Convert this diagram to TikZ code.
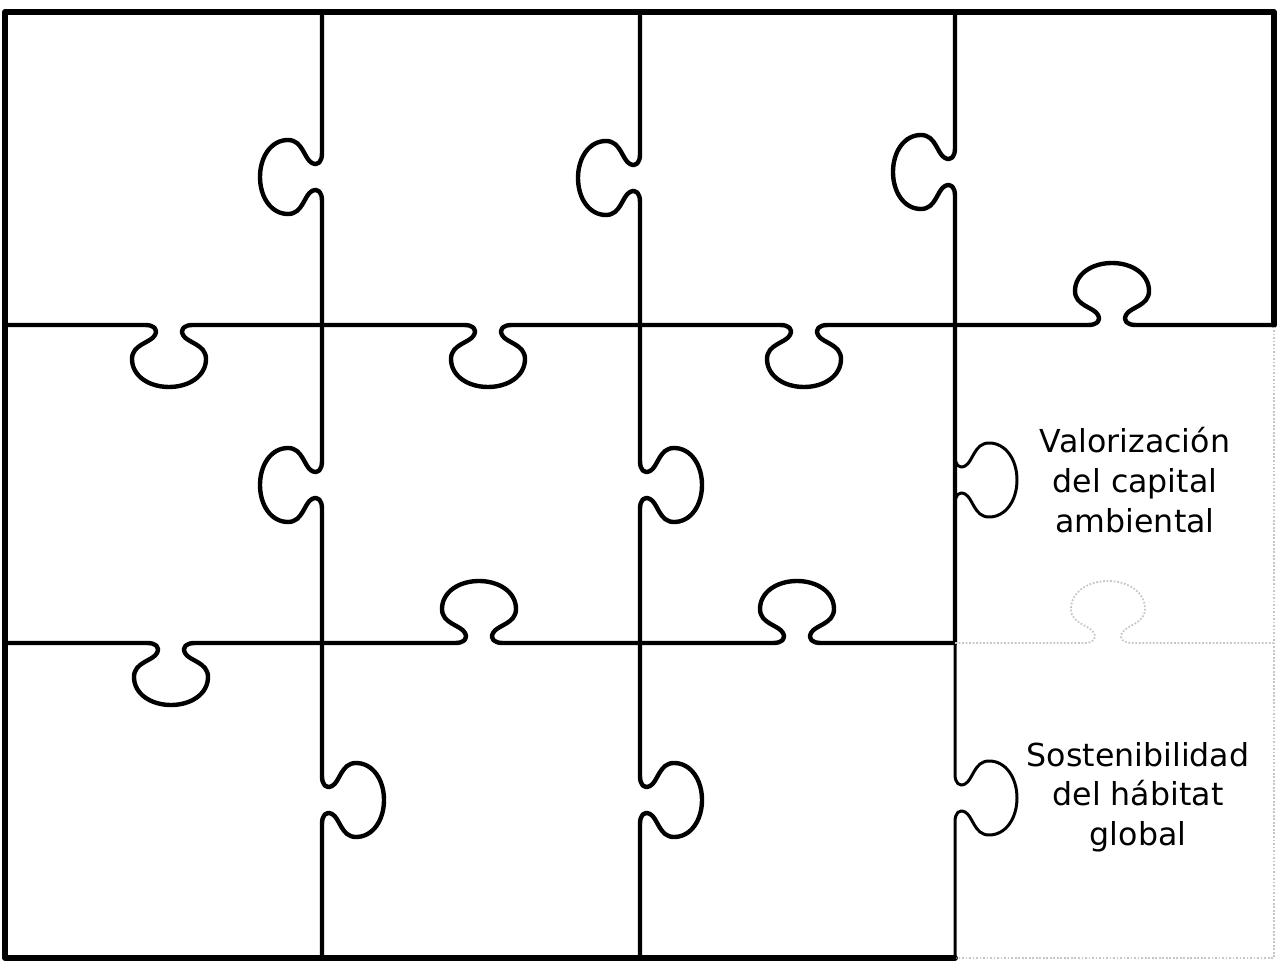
\documentclass[tikz,border=0pt]{standalone}
\usepackage{fontspec}
\newfontfamily\labelfont{DejaVu Sans}
% knob on a horizontal edge: x centre, y, side (1 = down, -1 = up)
\newcommand{\hk}[3]{%
 -- ({#1-24},#2) .. controls ({#1-15},#2) and ({#1-11},{#2+4*(#3)}) .. ({#1-14},{#2+10*(#3)})
 .. controls ({#1-18},{#2+18*(#3)}) and ({#1-37},{#2+19*(#3)}) .. ({#1-37},{#2+34*(#3)})
 .. controls ({#1-37},{#2+51*(#3)}) and ({#1-20},{#2+62*(#3)}) .. (#1,{#2+62*(#3)})
 .. controls ({#1+20},{#2+62*(#3)}) and ({#1+37},{#2+51*(#3)}) .. ({#1+37},{#2+34*(#3)})
 .. controls ({#1+37},{#2+19*(#3)}) and ({#1+18},{#2+18*(#3)}) .. ({#1+14},{#2+10*(#3)})
 .. controls ({#1+11},{#2+4*(#3)}) and ({#1+15},#2) .. ({#1+24},#2)}
% knob on a vertical edge: x, y centre, side (1 = right, -1 = left)
\newcommand{\vk}[3]{%
 -- (#1,{#2-24}) .. controls (#1,{#2-15}) and ({#1+4*(#3)},{#2-11}) .. ({#1+10*(#3)},{#2-14})
 .. controls ({#1+18*(#3)},{#2-18}) and ({#1+19*(#3)},{#2-37}) .. ({#1+34*(#3)},{#2-37})
 .. controls ({#1+51*(#3)},{#2-37}) and ({#1+62*(#3)},{#2-20}) .. ({#1+62*(#3)},#2)
 .. controls ({#1+62*(#3)},{#2+20}) and ({#1+51*(#3)},{#2+37}) .. ({#1+34*(#3)},{#2+37})
 .. controls ({#1+19*(#3)},{#2+37}) and ({#1+18*(#3)},{#2+18}) .. ({#1+10*(#3)},{#2+14})
 .. controls ({#1+4*(#3)},{#2+11}) and (#1,{#2+15}) .. (#1,{#2+24})}
\begin{document}
\begin{tikzpicture}[x=0.02cm, y=-0.02cm,
  border/.style={line width=3.3pt, line join=round, line cap=round},
  piece/.style={line width=2.5pt, line join=round, line cap=round},
  lastpiece/.style={line width=1.7pt, line join=round, line cap=round},
  faint/.style={line width=1pt, gray!45, densely dotted},
  caption/.style={align=center, font=\labelfont\fontsize{18}{22.6}\selectfont}]
\useasboundingbox (0,0) rectangle (1282,962);
% outer frame
\draw[border] (1274,325) -- (1274,12) -- (5,12) -- (5,958) -- (955,958);
\draw[faint] (955,958) -- (1274,958) -- (1274,325);
% vertical cuts
\draw[piece] (322,12) \vk{322}{177}{-1} \vk{322}{485}{-1} \vk{322}{800}{1} -- (322,958);
\draw[piece] (640,12) \vk{640}{178}{-1} \vk{640}{485}{1} \vk{640}{800}{1} -- (640,958);
\draw[piece] (955,12) \vk{955}{172}{-1} -- (955,643);
\draw[lastpiece] (955,643) -- (955,325) \vk{955}{480}{1} \vk{955}{798}{1} -- (955,958);
% horizontal cuts
\draw[piece] (5,325) \hk{169}{325}{1} \hk{488}{325}{1} \hk{804}{325}{1} \hk{1112}{325}{-1} -- (1274,325);
\draw[piece] (5,643) \hk{171}{643}{1} \hk{479}{643}{-1} \hk{797}{643}{-1} -- (955,643);
\draw[faint] (955,643) \hk{1108}{643}{-1} -- (1274,643);
% texts of the two right pieces
\node[caption] (valor) at (1135,480) {Valorización\\del capital\\ambiental};
\node[caption] (soste) at (1138,797) {Sostenibilidad\\del hábitat\\global};
\end{tikzpicture}
\end{document}
